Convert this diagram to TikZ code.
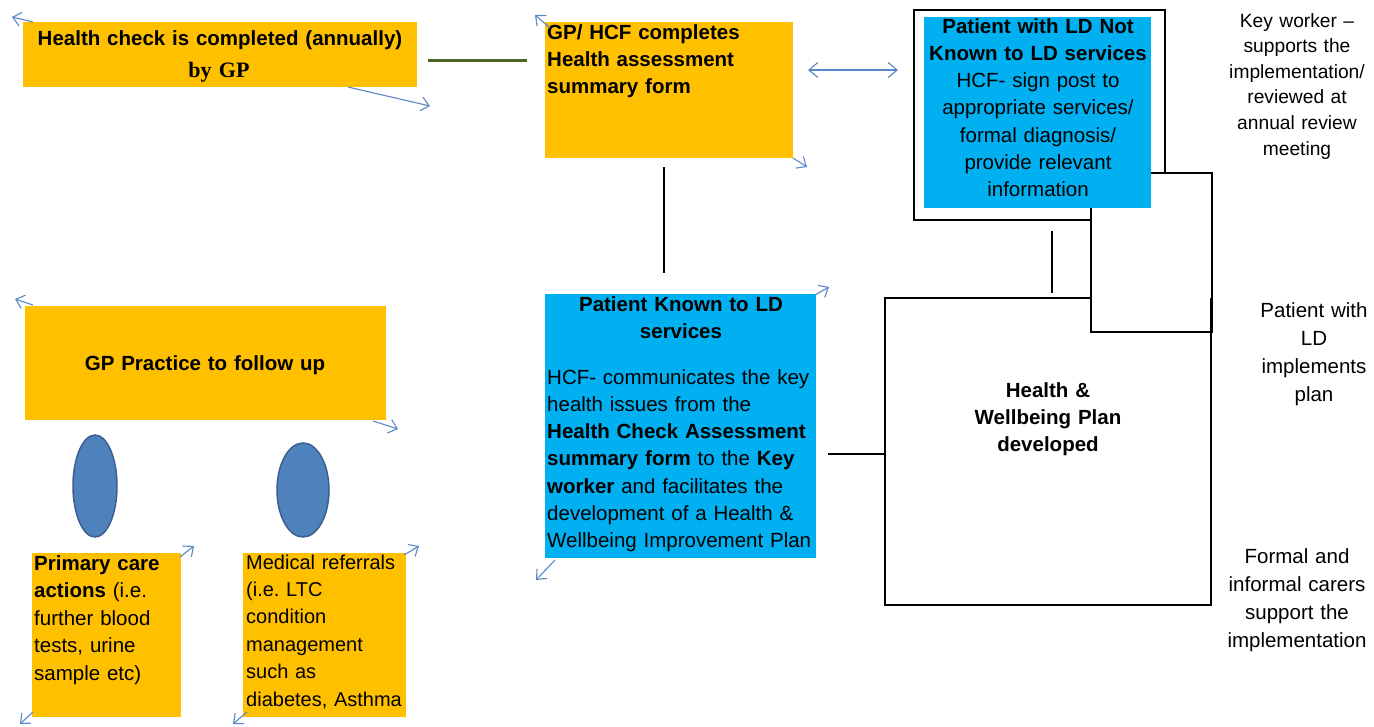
\documentclass[tikz,border=0pt]{standalone}
\usepackage{fontspec}
\setmainfont{Liberation Sans}
\newfontfamily\gpserif{Liberation Serif}
\usetikzlibrary{arrows.meta,shapes.geometric}
\definecolor{boxgold}{HTML}{FFC000}
\definecolor{boxcyan}{HTML}{00B0F0}
\definecolor{ovalfill}{HTML}{4F81BD}
\definecolor{ovaldraw}{HTML}{3A5F8E}
\definecolor{handleblue}{HTML}{5A87C8}
\definecolor{linegreen}{HTML}{4F6228}
\newcommand{\bodyfs}{\fontsize{20.5}{27.3}\selectfont}
\frenchspacing
\begin{document}
\begin{tikzpicture}[x=1pt,y=-1pt,
  goldbox/.style={fill=boxgold, draw=none, anchor=north west, inner sep=0pt, outer sep=0pt},
  cyanbox/.style={fill=boxcyan, draw=none, anchor=north west, inner sep=0pt, outer sep=0pt},
  framebox/.style={fill=white, draw=black, line width=1.5pt, anchor=north west, inner sep=0pt, outer sep=0pt},
  ctext/.style={anchor=base, inner sep=0pt, text width=#1, align=center, font=\bodyfs},
  ltext/.style={anchor=base west, inner sep=0pt, text width=#1, align=left, font=\bodyfs},
  handle/.style={draw=handleblue, line width=1.1pt, -{Straight Barb[length=8pt,width=14pt]}},
  biarrow/.style={draw=handleblue, line width=1.1pt, {Straight Barb[length=9pt,width=15pt]}-{Straight Barb[length=9pt,width=15pt]}},
  oval/.style={ellipse, fill=ovalfill, draw=ovaldraw, line width=1.5pt, inner sep=0pt},
  link/.style={draw=black, line width=1.5pt}
]
\useasboundingbox (0,0) rectangle (1374,726);

% ---------- top row ----------
\node[goldbox, minimum width=394pt, minimum height=65pt] (hcbox) at (23,22) {};
\node[ctext=400, font=\bodyfs\bfseries] (hct1) at (220,45) {Health check is completed (annually)};
\node[ctext=200, font=\fontsize{22}{26}\selectfont\gpserif\bfseries] (hct2) at (219,77) {by GP};

\node[goldbox, minimum width=248pt, minimum height=136pt] (hcf) at (545,22) {};
\node[ltext=250, font=\bodyfs\bfseries] (hcft) at (547,39) {GP/ HCF completes\\Health assessment\\summary form};

% ---------- right cluster ----------
\node[framebox, minimum width=251pt, minimum height=210pt] (ldframe) at (914,10) {};
\node[framebox, minimum width=326pt, minimum height=307pt] (plan) at (885,298) {};
\node[framebox, minimum width=121pt, minimum height=159pt] (stub) at (1091,173) {};
\draw[line width=2.4pt] (plan.north east) -- ++(0,34);
\node[cyanbox, minimum width=227pt, minimum height=191pt] (notknown) at (924,17) {};
\node[ctext=240] (notknownt) at (1038,33) {\textbf{Patient with LD Not}\\\textbf{Known to LD services}\\HCF- sign post to\\appropriate services/\\formal diagnosis/\\provide relevant\\information};
\node[ctext=220, font=\bodyfs\bfseries] (plant) at (1048,397) {Health \&\\Wellbeing Plan\\developed};

% ---------- middle ----------
\node[cyanbox, minimum width=271pt, minimum height=264pt] (known) at (545,294) {};
\node[ctext=280, font=\bodyfs\bfseries] (knownt) at (681,311) {Patient Known to LD\\services};
\node[ltext=290] (knownb) at (547,384) {HCF- communicates the key\\health issues from the\\\textbf{Health Check Assessment}\\\textbf{summary form} to the \textbf{Key}\\\textbf{worker} and facilitates the\\development of a Health \&\\Wellbeing Improvement Plan};

% ---------- right texts ----------
\node[ctext=170, font=\fontsize{19.2}{25.6}\selectfont] (keyw) at (1297,27) {Key worker –\\supports the\\implementation/\\reviewed at\\annual review\\meeting};
\node[ctext=170, font=\fontsize{20.5}{28}\selectfont] (implt) at (1314,317) {Patient with\\LD\\implements\\plan};
\node[ctext=170, font=\fontsize{20.5}{28}\selectfont] (carers) at (1297,563) {Formal and\\informal carers\\support the\\implementation};

% ---------- left column ----------
\node[goldbox, minimum width=361pt, minimum height=114pt] (gpp) at (25,306) {};
\node[ctext=360, font=\bodyfs\bfseries] (gppt) at (205,370) {GP Practice to follow up};
\node[oval, minimum width=44pt, minimum height=102pt] (ov1) at (95,486) {};
\node[oval, minimum width=52pt, minimum height=94pt] (ov2) at (303,490) {};
\node[goldbox, minimum width=149pt, minimum height=164pt] (prim) at (32,553) {};
\node[ltext=150, font=\fontsize{20.5}{27.5}\selectfont] (primt) at (34,570) {\textbf{Primary care}\\\textbf{actions} (i.e.\\further blood\\tests, urine\\sample etc)};
\node[goldbox, minimum width=163pt, minimum height=164pt] (medr) at (243,553) {};
\node[ltext=165, font=\fontsize{20}{27.4}\selectfont] (medrt) at (246,569) {Medical referrals\\(i.e. LTC\\condition\\management\\such as\\diabetes, Asthma};

% ---------- connectors ----------
\coordinate (g1) at (428,60);
\coordinate (g2) at (527,60);
\draw[linegreen, line width=3pt] (g1) -- (g2);
\coordinate (bf1) at (664,167);
\coordinate (bf2) at (664,273);
\draw[link] (bf1) -- (bf2);
\coordinate (ce1) at (1052,231);
\coordinate (ce2) at (1052,293);
\draw[link] (ce1) -- (ce2);
\coordinate (fe1) at (828,454);
\draw[link] (fe1) -- (fe1 -| plan.west);
\coordinate (da1) at (808,70);
\coordinate (da2) at (898,70);
\draw[biarrow] (da1) -- (da2);

% ---------- corner handles ----------
\draw[handle] ([shift={(10,0)}]hcbox.north west) -- ++(-21,-5);
\draw[handle] ([shift={(-69,0)}]hcbox.south east) -- ++(82,19);
\draw[handle] ([shift={(5,6)}]hcf.north west) -- ++(-15,-13);
\draw[handle] (hcf.south east) -- ++(14,9);
\draw[handle] ([shift={(-1,1)}]known.north east) -- ++(14,-8);
\draw[handle] ([shift={(10,2)}]known.south west) -- ++(-19,20);
\draw[handle] ([shift={(8,-1)}]gpp.north west) -- ++(-18,-6);
\draw[handle] ([shift={(-13,1)}]gpp.south east) -- ++(25,8);
\draw[handle] ([shift={(-1,4)}]prim.north east) -- ++(14,-11);
\draw[handle] ([shift={(1,-5)}]prim.south west) -- ++(-13,12);
\draw[handle] ([shift={(-2,2)}]medr.north east) -- ++(15,-9);
\draw[handle] ([shift={(4,-5)}]medr.south west) -- ++(-14,12);
\end{tikzpicture}
\end{document}
